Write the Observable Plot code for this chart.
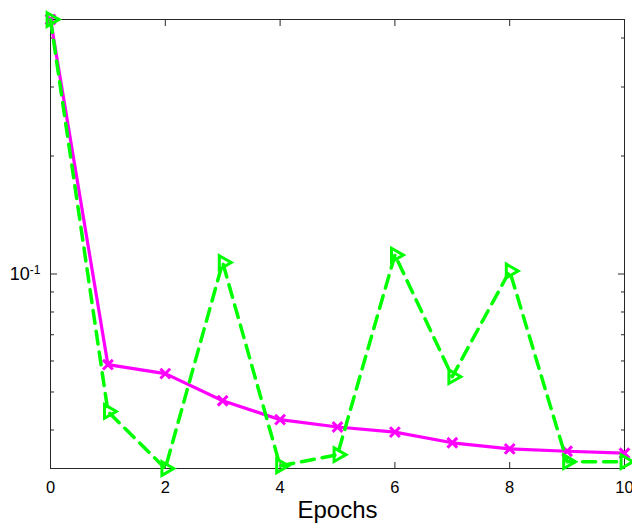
<!DOCTYPE html>
<html>
<head>
<meta charset="utf-8">
<script src="https://cdn.jsdelivr.net/npm/d3@7"></script>
<script src="https://cdn.jsdelivr.net/npm/@observablehq/plot@0.6"></script>
<style>
  html, body { margin: 0; padding: 0; background: #fff; }
  #chart svg { display: block; }
  #chart g[aria-label="x-axis tick label"] text { font-size: 16.5px !important; }
  #chart g[aria-label="y-axis tick label"] text { font-size: 18px !important; }
</style>
</head>
<body>
<div id="chart"></div>
<script>
// ---- data ----
const epochs = [0, 1, 2, 3, 4, 5, 6, 7, 8, 9, 10];
const lossMagenta = [0.446, 0.0587, 0.0557, 0.0475, 0.0425, 0.0407, 0.0395, 0.0371, 0.0358, 0.0353, 0.0349];
const lossGreen   = [0.446, 0.0446, 0.0319, 0.1070, 0.0324, 0.0346, 0.1118, 0.0547, 0.1018, 0.0332, 0.0332];
const xTicks = [0, 2, 4, 6, 8, 10];
const yMajorTicks = [0.1];
const yMajorBase = ["10"];
const yMajorExp = ["-1"];
const yMinorTicks = [0.04, 0.05, 0.06, 0.07, 0.08, 0.09, 0.2, 0.3, 0.4];
const xLabel = "Epochs";

const rowsM = epochs.map((e, i) => ({epoch: e, loss: lossMagenta[i]}));
const rowsG = epochs.map((e, i) => ({epoch: e, loss: lossGreen[i]}));
const yDomain = d3.extent([...lossMagenta, ...lossGreen]);

const triangleRight = {
  draw(ctx, size) {
    const r = Math.sqrt(size / Math.PI);
    ctx.moveTo(-0.4 * r, -0.8 * r);
    ctx.lineTo(1.0 * r, 0);
    ctx.lineTo(-0.4 * r, 0.8 * r);
    ctx.closePath();
  }
};

const axisColor = "#262626";
const font = "'Liberation Sans', Arial, Helvetica, sans-serif";

const chart = Plot.plot({
  width: 632,
  height: 530,
  marginLeft: 50,
  marginRight: 8,
  marginTop: 19,
  marginBottom: 62,
  style: {fontFamily: font, color: axisColor, background: "#fff"},
  x: {domain: [0, 10]},
  y: {type: "log", domain: yDomain},
  marks: [
    Plot.frame({stroke: axisColor, strokeWidth: 1}),
    Plot.axisX({anchor: "bottom", ticks: xTicks, tickSize: -6, tickPadding: 19, fontSize: 16.5, fill: "#000", label: null, stroke: axisColor}),
    Plot.axisX({anchor: "top", ticks: xTicks, tickSize: -6, tickFormat: () => "", label: null, stroke: axisColor}),
    Plot.axisY({anchor: "left", ticks: yMajorTicks, tickSize: -7, tickPadding: 17, fontSize: 18, fill: "#000",
      tickFormat: d => yMajorBase[yMajorTicks.indexOf(d)], label: null, stroke: axisColor}),
    Plot.axisY({anchor: "right", ticks: yMajorTicks, tickSize: -7, tickFormat: () => "", label: null, stroke: axisColor}),
    Plot.axisY({anchor: "left", ticks: yMinorTicks, tickSize: -4, tickFormat: () => "", label: null, stroke: axisColor}),
    Plot.axisY({anchor: "right", ticks: yMinorTicks, tickSize: -4, tickFormat: () => "", label: null, stroke: axisColor}),
    Plot.text([xLabel], {frameAnchor: "bottom", dy: 49, fontSize: 24, fill: "#000"}),
    Plot.line(rowsM, {x: "epoch", y: "loss", stroke: "#ff00ff", strokeWidth: 3.2}),
    Plot.dot(rowsM, {x: "epoch", y: "loss", symbol: "times", r: 4.5, stroke: "#ff00ff", strokeWidth: 3}),
    Plot.line(rowsG, {x: "epoch", y: "loss", stroke: "#00ff00", strokeWidth: 3.5, strokeDasharray: "13,8"}),
    Plot.dot(rowsG, {x: "epoch", y: "loss", symbol: triangleRight, r: 8.5, stroke: "#00ff00", strokeWidth: 3, fill: "none"})
  ]
});

// add superscript exponent to the major y tick label(s)
chart.querySelectorAll('g[aria-label="y-axis tick label"] text').forEach(t => {
  const i = yMajorBase.indexOf(t.textContent);
  if (i < 0) return;
  const sup = document.createElementNS("http://www.w3.org/2000/svg", "tspan");
  sup.setAttribute("dy", "-0.45em");
  sup.setAttribute("font-size", "12");
  sup.textContent = yMajorExp[i];
  t.appendChild(sup);
});

document.getElementById("chart").appendChild(chart);
</script>
</body>
</html>
